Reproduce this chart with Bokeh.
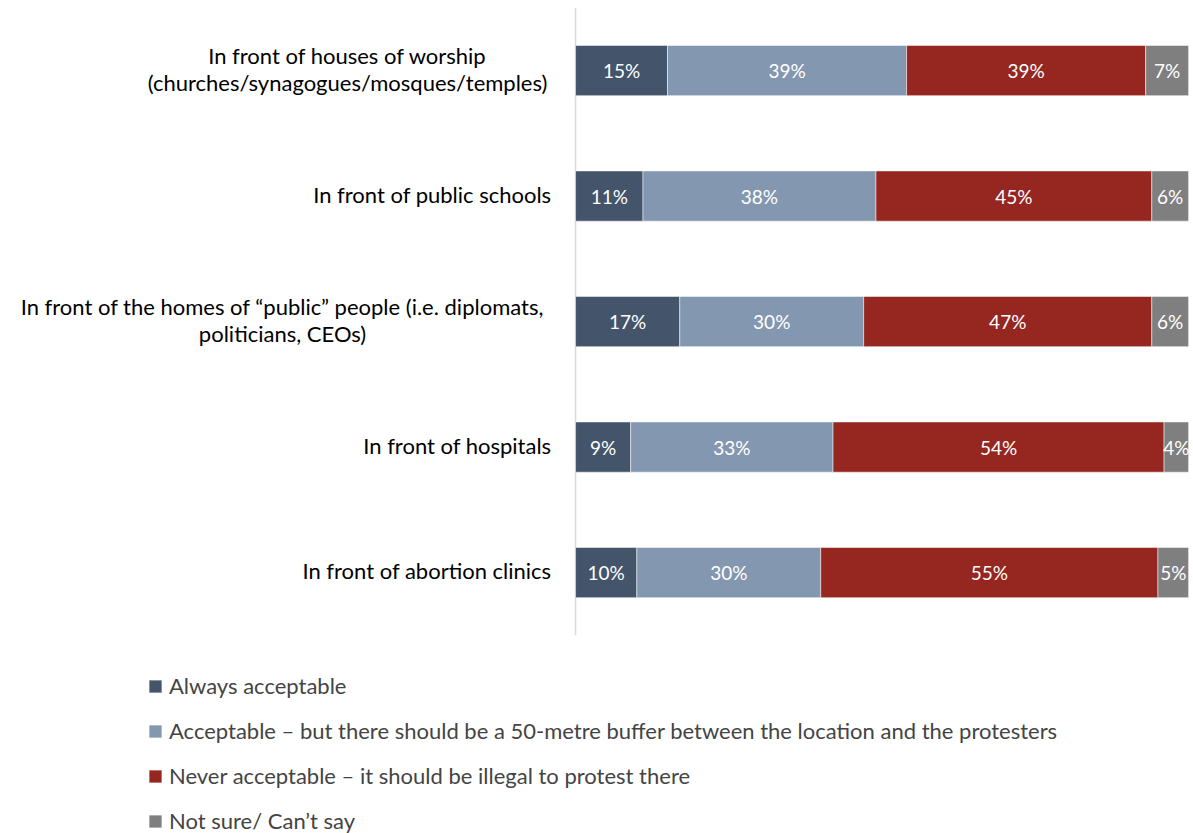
from bokeh.plotting import figure
from bokeh.models import Range1d, Legend, LegendItem, ColumnDataSource
from bokeh.core.properties import value
from bokeh.embed import file_html
from bokeh.resources import INLINE

categories = [
    "In front of houses of worship\n(churches/synagogues/mosques/temples)",
    "In front of public schools",
    "In front of the homes of \u201cpublic\u201d people (i.e. diplomats,\npoliticians, CEOs)",
    "In front of hospitals",
    "In front of abortion clinics",
]
always = [15, 11, 17, 9, 10]
buffer_ok = [39, 38, 30, 33, 30]
never = [39, 45, 47, 54, 55]
not_sure = [7, 6, 6, 4, 5]
series_names = [
    "Always acceptable",
    "Acceptable \u2013 but there should be a 50-metre buffer between the location and the protesters",
    "Never acceptable \u2013 it should be illegal to protest there",
    "Not sure/ Can\u2019t say",
]
colors = ["#44546A", "#8497B0", "#952620", "#7F7F7F"]

FONT = "Lato"
FS = "22px"
VFS = "19px"

n = len(categories)
ys = list(range(n))
series = [always, buffer_ok, never, not_sure]
keys = ["s0", "s1", "s2", "s3"]

data = dict(y=ys)
for k, s in zip(keys, series):
    data[k] = s
src = ColumnDataSource(data)

p = figure(width=1193, height=833, output_backend="svg", toolbar_location=None,
           x_range=Range1d(-93.8, 100.8), y_range=Range1d(6.079, -0.558),
           min_border=0)
p.xaxis.visible = False
p.yaxis.visible = False
p.xgrid.visible = False
p.ygrid.visible = False
p.outline_line_color = None

# vertical axis line
p.segment(x0=[0], y0=[-0.5], x1=[0], y1=[n - 0.5], line_color="#D9D9D9", line_width=1.5)

renderers = p.hbar_stack(keys, y="y", height=0.4, color=colors, source=src,
                         line_color="white", line_width=0.5)

# value labels
cum = [0] * n
for k, s in zip(keys, series):
    centers = [c + v / 2 for c, v in zip(cum, s)]
    cum = [c + v for c, v in zip(cum, s)]
    lsrc = ColumnDataSource(dict(x=centers, y=ys, t=[f"{v}%" for v in s]))
    p.text(x="x", y="y", text="t", source=lsrc, text_align="center",
           text_baseline="middle", text_color="white",
           text_font=value(FONT), text_font_size=VFS)

# category labels
block_center_offsets = [-228, -24, -293, -24, -24]
for i, cat in enumerate(categories):
    lines = cat.split("\n")
    if len(lines) == 1:
        p.text(x=[0], y=[ys[i]], text=[lines[0]], text_align="right",
               text_baseline="middle", x_offset=-24, y_offset=-2, text_color="#000000",
               text_font=value(FONT), text_font_size=FS)
    else:
        for j, ln in enumerate(lines):
            p.text(x=[0], y=[ys[i]], text=[ln], text_align="center",
                   text_baseline="middle", x_offset=block_center_offsets[i],
                   y_offset=-15.5 + 27 * j, text_color="#000000",
                   text_font=value(FONT), text_font_size=FS)

legend = Legend(items=[LegendItem(label=nm, renderers=[r]) for nm, r in zip(series_names, renderers)],
                location=(147, -1), orientation="vertical",
                border_line_color=None, background_fill_alpha=0,
                padding=0, margin=0, spacing=18,
                glyph_width=16, glyph_height=16, label_standoff=6,
                label_text_font=FONT, label_text_font_size=FS, label_height=20)
p.add_layout(legend, "center")

open("out.html", "w").write(file_html(p, INLINE))
